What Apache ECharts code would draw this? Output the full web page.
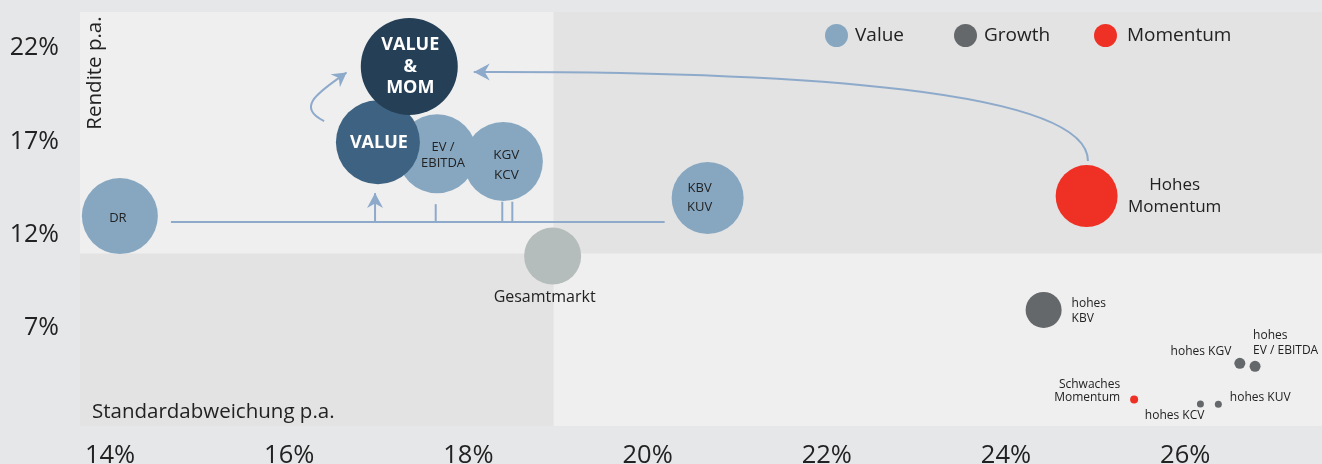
<!DOCTYPE html>
<html>
<head>
<meta charset="utf-8">
<script src="https://cdn.jsdelivr.net/npm/echarts@6/dist/echarts.min.js"></script>
<style>
  html, body { margin: 0; padding: 0; background: #e6e7e9; }
  #chart { width: 1322px; height: 464px; }
</style>
</head>
<body>
<div id="chart"></div>
<script>
  // axis ticks
  const xTicks = [14, 16, 18, 20, 22, 24, 26]
  const yTicks = [7, 12, 17, 22]

  // Value factors (light blue)
  const valueNames = ['DR', 'EV /\nEBITDA', 'KGV\nKCV', 'KBV\nKUV']
  const valueX = [14.11, 17.65, 18.39, 20.67]
  const valueY = [13.0, 16.34, 15.92, 13.97]
  const valueBubble = [76, 79, 79, 72]

  // Growth factors (dark grey)
  const growthNames = ['hohes\nKBV', 'hohes KGV', 'hohes\nEV / EBITDA', 'hohes KCV', 'hohes KUV']
  const growthX = [24.42, 26.61, 26.78, 26.17, 26.37]
  const growthY = [7.97, 5.11, 4.95, 2.93, 2.92]
  const growthBubble = [36, 11, 11, 7, 7]

  // Momentum (red)
  const momentumNames = ['Hohes\nMomentum', 'Schwaches\nMomentum']
  const momentumX = [24.90, 25.43]
  const momentumY = [14.07, 3.18]
  const momentumBubble = [62, 8]

  // combined portfolios + market
  const marketNames = ['Gesamtmarkt']
  const marketX = [18.94]
  const marketY = [10.86]
  const marketBubble = [57]

  const comboNames = ['VALUE', 'VALUE\n&\nMOM']
  const comboX = [16.99, 17.34]
  const comboY = [16.95, 21.01]
  const comboBubble = [84, 97]

  // quadrant split
  const splitX = 18.95
  const splitY = 11

  const xMin = 13.665, xMax = 27.527, yMin = 1.755, yMax = 23.93
  const font = "'Open Sans', sans-serif"
  const lineColor = '#8eaacb'

  // label styles per point
  const labelStyle = {
    'DR': { position: 'inside', fontSize: 13, offset: [-2, 2] },
    'EV /\nEBITDA': { position: 'inside', fontSize: 13, lineHeight: 16, offset: [6, 2] },
    'KGV\nKCV': { position: 'inside', fontSize: 13.5, lineHeight: 20, offset: [3, 4] },
    'KBV\nKUV': { position: 'inside', fontSize: 13, lineHeight: 19, offset: [-8, 0] },
    'hohes\nKBV': { position: 'right', distance: 10, fontSize: 12, lineHeight: 14.5, offset: [0, 1] },
    'hohes KGV': { position: 'left', distance: 3, fontSize: 12, offset: [0, -12] },
    'hohes\nEV / EBITDA': { position: 'top', align: 'left', distance: 3, fontSize: 12, lineHeight: 14.6, offset: [-2, 0] },
    'hohes KCV': { position: 'bottom', align: 'right', distance: 2, fontSize: 12, offset: [4, 0] },
    'hohes KUV': { position: 'right', distance: 8, fontSize: 12, offset: [0, -7] },
    'Hohes\nMomentum': { position: 'right', align: 'center', distance: 57, fontSize: 17, lineHeight: 22 },
    'Schwaches\nMomentum': { position: 'left', distance: 10, fontSize: 12, lineHeight: 13.5, offset: [0, -8.5] },
    'Gesamtmarkt': { position: 'bottom', distance: 5, fontSize: 16, offset: [-8, 0] },
    'VALUE': { position: 'inside', fontSize: 18, fontWeight: 'bold', color: '#ffffff', offset: [1, 1] },
    'VALUE\n&\nMOM': { position: 'inside', fontSize: 18, fontWeight: 'bold', color: '#ffffff', lineHeight: 21.5, offset: [1, 0] }
  }

  function points(names, xs, ys, sizes) {
    return names.map(function (n, i) {
      return {
        name: n,
        value: [xs[i], ys[i], sizes[i]],
        label: Object.assign({ show: true, formatter: n, color: '#222', fontFamily: font }, labelStyle[n])
      }
    })
  }

  // connector geometry in data units
  const bigCurve = [[18.06, 20.715], [21.70, 20.77], [24.915, 19.75], [24.915, 15.95]]
  const smallCurve = [[16.39, 18.09], [16.05, 18.89], [16.37, 19.75], [16.64, 20.69]]
  const upArrow = [[16.958, 12.68], [16.958, 14.23]]
  const baseLine = [[14.68, 12.68], [20.19, 12.68]]
  const stems = [[17.635, 13.64], [18.378, 13.77], [18.49, 13.77]]

  function arrowHead(tip, from, len, half, notch) {
    let dx = tip[0] - from[0], dy = tip[1] - from[1]
    const l = Math.sqrt(dx * dx + dy * dy)
    dx /= l; dy /= l
    const nx = -dy, ny = dx
    return [
      tip,
      [tip[0] - dx * len + nx * half, tip[1] - dy * len + ny * half],
      [tip[0] - dx * (len - notch), tip[1] - dy * (len - notch)],
      [tip[0] - dx * len - nx * half, tip[1] - dy * len - ny * half]
    ]
  }

  function renderConnectors(params, api) {
    const lineStyle = { stroke: lineColor, lineWidth: 2, fill: null }
    const c = function (p) { return api.coord(p) }
    const children = []
    const b = bigCurve.map(c)
    children.push({ type: 'bezierCurve', shape: { x1: b[3][0], y1: b[3][1], cpx1: b[2][0], cpy1: b[2][1], cpx2: b[1][0], cpy2: b[1][1], x2: b[0][0], y2: b[0][1] }, style: lineStyle })
    children.push({ type: 'polygon', shape: { points: arrowHead(b[0], b[1], 16, 8.5, 5) }, style: { fill: lineColor } })
    const s = smallCurve.map(c)
    children.push({ type: 'bezierCurve', shape: { x1: s[0][0], y1: s[0][1], cpx1: s[1][0], cpy1: s[1][1], cpx2: s[2][0], cpy2: s[2][1], x2: s[3][0], y2: s[3][1] }, style: lineStyle })
    children.push({ type: 'polygon', shape: { points: arrowHead(s[3], s[2], 14, 8, 4.5) }, style: { fill: lineColor } })
    const u = upArrow.map(c)
    children.push({ type: 'line', shape: { x1: u[0][0], y1: u[0][1], x2: u[1][0], y2: u[1][1] }, style: lineStyle })
    children.push({ type: 'polygon', shape: { points: arrowHead(u[1], u[0], 15, 8, 4.5) }, style: { fill: lineColor } })
    const h = baseLine.map(c)
    children.push({ type: 'line', shape: { x1: h[0][0], y1: h[0][1], x2: h[1][0], y2: h[1][1] }, style: lineStyle })
    stems.forEach(function (st) {
      const top = c(st), bot = c([st[0], baseLine[0][1]])
      children.push({ type: 'line', shape: { x1: top[0], y1: top[1], x2: bot[0], y2: bot[1] }, style: lineStyle })
    })
    return { type: 'group', children: children }
  }

  const legendText = { fontSize: 19, color: '#222', fontFamily: font, padding: [0, 0, 0, 2] }

  const chart = echarts.init(document.getElementById('chart'))
  chart.setOption({
    backgroundColor: '#e6e7e9',
    animation: false,
    textStyle: { fontFamily: font },
    grid: {
      left: 80, top: 12, right: 0, bottom: 38,
      outerBoundsMode: 'none',
      show: true, backgroundColor: '#efefef', borderWidth: 0
    },
    legend: [
      {
        data: ['Value', 'Growth'],
        left: 820, top: 19,
        icon: 'circle', itemWidth: 23, itemHeight: 23, itemGap: 50,
        textStyle: legendText
      },
      {
        data: ['Momentum'],
        left: 1089, top: 19,
        icon: 'circle', itemWidth: 23, itemHeight: 23,
        textStyle: { fontSize: 19, color: '#222', fontFamily: font, padding: [0, 0, 0, 5] }
      }
    ],
    xAxis: {
      type: 'value', min: xMin, max: xMax,
      axisLine: { show: false }, axisTick: { show: false }, splitLine: { show: false },
      axisLabel: { customValues: xTicks, formatter: '{value}%', fontSize: 25.5, color: '#222', margin: 17, fontFamily: font }
    },
    yAxis: {
      type: 'value', min: yMin, max: yMax,
      axisLine: { show: false }, axisTick: { show: false }, splitLine: { show: false },
      axisLabel: { customValues: yTicks, formatter: '{value}%', fontSize: 25, color: '#222', margin: 21, padding: [8, 0, 0, 0], fontFamily: font }
    },
    graphic: [
      { type: 'text', x: 95, y: 73, rotation: Math.PI / 2, z: 10,
        style: { text: 'Rendite p.a.', fontSize: 20.5, fontFamily: font, fill: '#222', align: 'center', verticalAlign: 'middle' } },
      { type: 'text', x: 92, y: 412, z: 10,
        style: { text: 'Standardabweichung p.a.', fontSize: 20.5, fontFamily: font, fill: '#222', align: 'left', verticalAlign: 'middle' } }
    ],
    series: [
      {
        type: 'scatter', data: [], z: 0, silent: true,
        markArea: {
          silent: true,
          itemStyle: { color: '#e3e3e3' },
          data: [
            [{ xAxis: splitX, yAxis: splitY }, { xAxis: xMax, yAxis: yMax }],
            [{ xAxis: xMin, yAxis: yMin }, { xAxis: splitX, yAxis: splitY }]
          ]
        }
      },
      {
        type: 'custom', silent: true, z: 1, clip: false,
        data: [[16, 12]], encode: { x: 0, y: 1 },
        renderItem: renderConnectors
      },
      {
        name: 'Gesamtmarkt', type: 'scatter', z: 2,
        symbolSize: function (v) { return v[2] },
        itemStyle: { color: '#b5bcbc', opacity: 1 },
        data: points(marketNames, marketX, marketY, marketBubble)
      },
      {
        name: 'Value', type: 'scatter', z: 3,
        symbolSize: function (v) { return v[2] },
        itemStyle: { color: '#87a7c1', opacity: 1 },
        data: points(valueNames, valueX, valueY, valueBubble)
      },
      {
        name: 'Growth', type: 'scatter', z: 3,
        symbolSize: function (v) { return v[2] },
        itemStyle: { color: '#65686a', opacity: 1 },
        data: points(growthNames, growthX, growthY, growthBubble)
      },
      {
        name: 'Momentum', type: 'scatter', z: 3,
        symbolSize: function (v) { return v[2] },
        itemStyle: { color: '#ee3124', opacity: 1 },
        data: points(momentumNames, momentumX, momentumY, momentumBubble)
      },
      {
        name: 'Kombi', type: 'scatter', z: 4,
        symbolSize: function (v) { return v[2] },
        itemStyle: {
          color: function (p) { return p.dataIndex === 0 ? '#3e6281' : '#243f56' },
          opacity: 1
        },
        data: points(comboNames, comboX, comboY, comboBubble)
      }
    ]
  })
</script>
</body>
</html>
